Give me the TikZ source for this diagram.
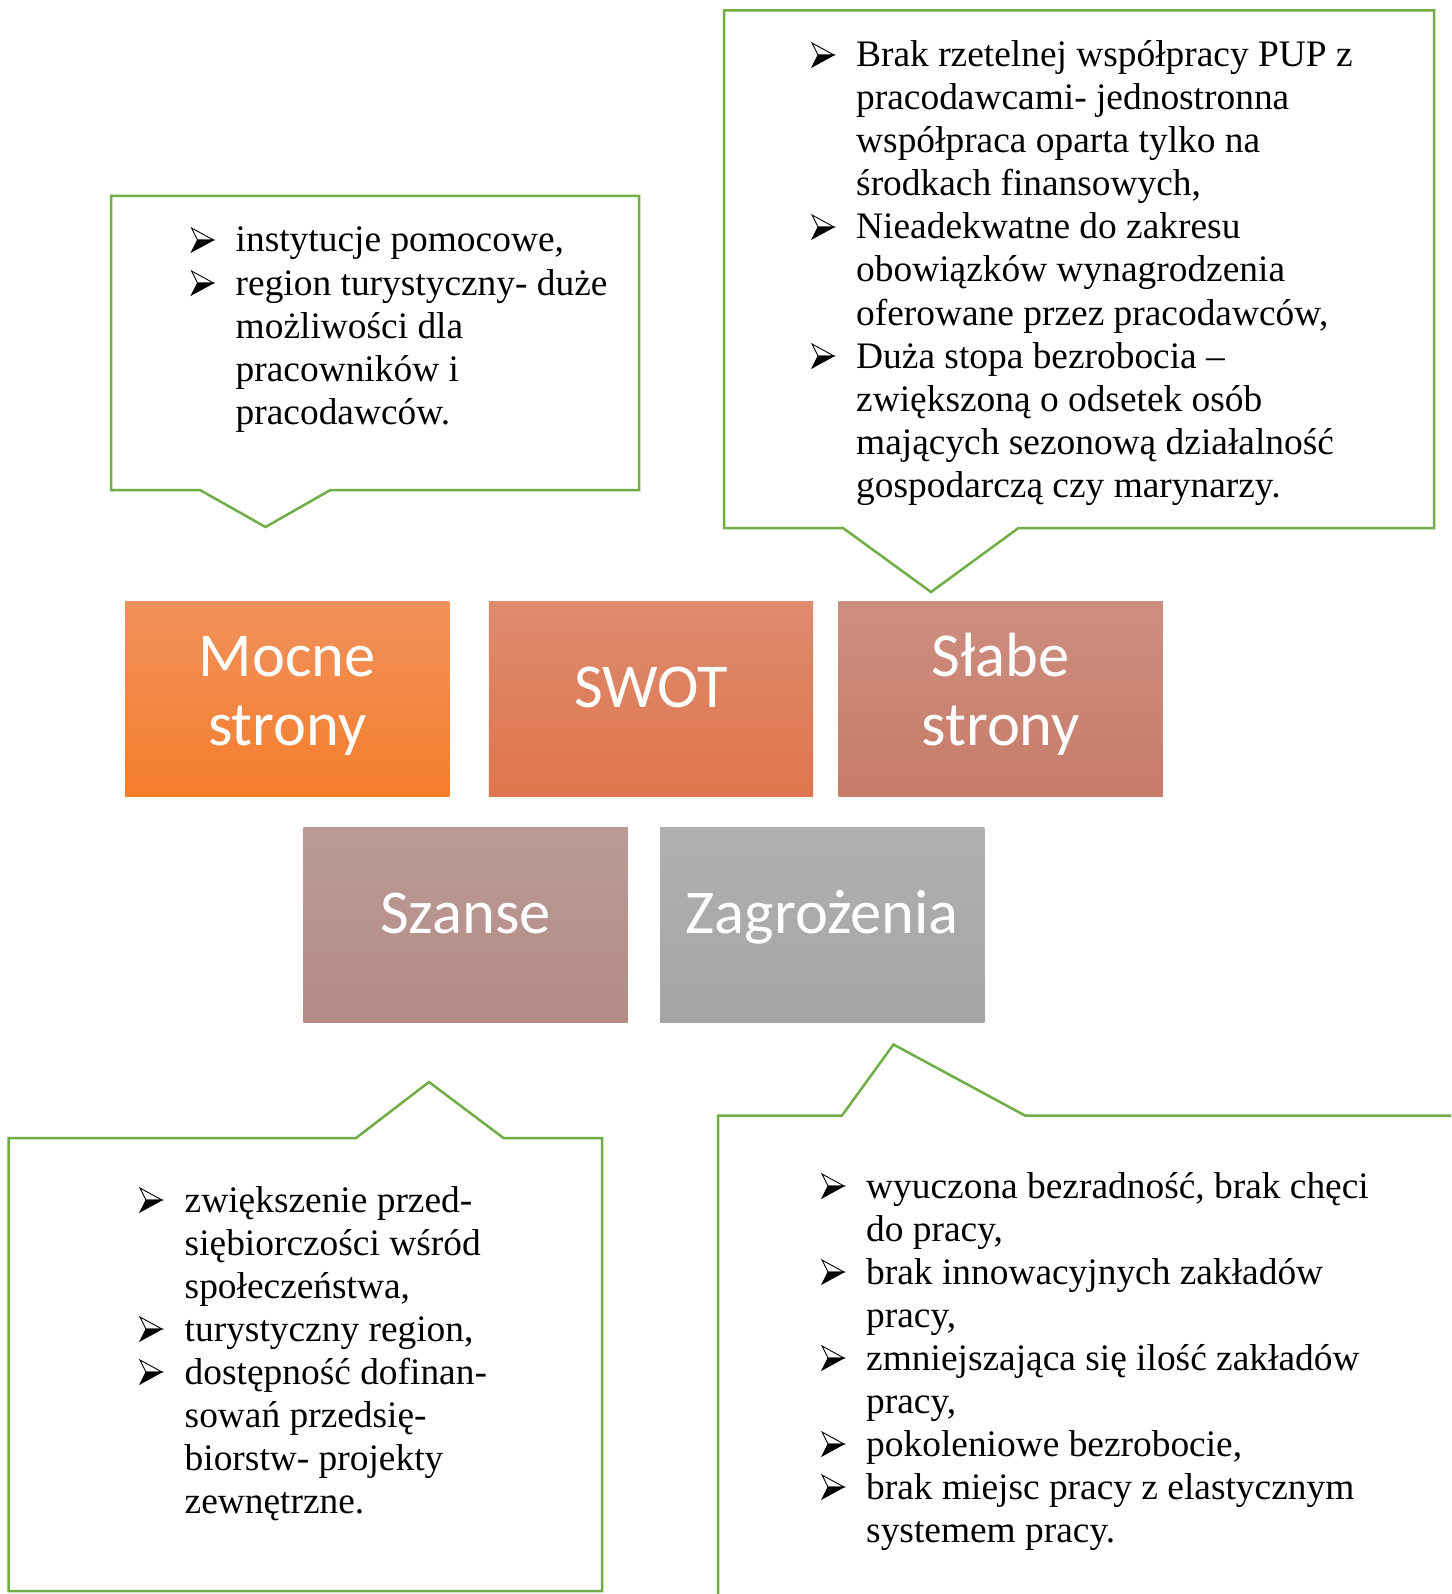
\documentclass[tikz,border=0pt]{standalone}
\usepackage{fontspec}
\setmainfont{Liberation Serif}
\newfontfamily\calib{Carlito}
\definecolor{cgreen}{RGB}{112,173,71}
\definecolor{mTop}{RGB}{240,145,92}\definecolor{mBot}{RGB}{245,126,44}
\definecolor{sTop}{RGB}{222,139,110}\definecolor{sBot}{RGB}{223,118,76}
\definecolor{wTop}{RGB}{205,142,128}\definecolor{wBot}{RGB}{200,124,104}
\definecolor{oTop}{RGB}{187,155,151}\definecolor{oBot}{RGB}{180,138,133}
\definecolor{tTop}{RGB}{176,176,176}\definecolor{tBot}{RGB}{165,165,165}
\begin{document}
\begin{tikzpicture}[x=1pt,y=-1pt,
  callout/.style={draw=cgreen, line width=2.5pt, line join=miter},
  txt/.style={font=\fontsize{37.4}{43}\selectfont, anchor=base west, inner sep=0pt},
  lbl/.style={font=\calib\fontsize{62.5}{69}\selectfont, text=white, anchor=base, inner sep=0pt},
  box/.style={minimum width=324.3pt, minimum height=195pt, inner sep=0pt, draw=none},
  bul/.pic={
    \filldraw[fill=white,draw=black,line width=0.9pt,line join=miter] (0,-24)--(22,-12)--(6,-12)--cycle;
    \filldraw[fill=black,draw=black,line width=0.9pt,line join=miter] (6,-12)--(22,-12)--(0,0)--cycle;
  }]
\useasboundingbox (0,0) rectangle (1451,1594);
\fill[white] (0,0) rectangle (1451,1594);
\clip (0,0) rectangle (1451,1594);

% callouts
\draw[callout] (111,196) -- (639,196) -- (639,490) -- (330.4,490) -- (265.5,527) -- (200,490) -- (111,490) -- cycle;
\draw[callout] (724,10.5) -- (1434,10.5) -- (1434,528) -- (1018.5,528) -- (931,592) -- (843,528) -- (724,528) -- cycle;
\draw[callout] (8.5,1138) -- (356,1138) -- (429,1082) -- (503.5,1138) -- (602,1138) -- (602,1591) -- (8.5,1591) -- cycle;
\draw[callout] (718,1610) -- (718,1115.5) -- (842,1115.5) -- (893.5,1044.5) -- (1025,1115.5) -- (1470,1115.5);

% boxes
\node[box, top color=mTop, bottom color=mBot] (mocne) at (287.2,698.75) {};
\node[box, top color=sTop, bottom color=sBot] (swot) at (650.9,698.75) {};
\node[box, top color=wTop, bottom color=wBot] (slabe) at (1000.7,698.75) {};
\node[box, top color=oTop, bottom color=oBot] (szanse) at (465.6,925.35) {};
\node[box, top color=tTop, bottom color=tBot] (zagr) at (822.3,925.35) {};

\node[lbl] (mocneA) at (287.2,676) {Mocne};
\node[lbl] (mocneB) at (287.2,745) {strony};
\node[lbl] (swotT) at (650.9,707) {SWOT};
\node[lbl] (slabeA) at (1000.7,676) {Słabe};
\node[lbl] (slabeB) at (1000.7,745) {strony};
\node[lbl] (szanseT) at (465.6,933) {Szanse};
\node[lbl] (zagrT) at (822.3,933) {Zagrożenia};

% callout 1 text
\foreach \t [count=\i from 0] in {{instytucje pomocowe,},{region turystyczny- duże},{możliwości dla},{pracowników i},{pracodawców.}}
  \node[txt] (a\i) at (235.5,{252+43*\i}) {\t};
\pic at (191.5,252) {bul};
\pic at (191.5,295) {bul};

% callout 2 text
\foreach \t [count=\i from 0] in {{Brak rzetelnej współpracy PUP z},{pracodawcami- jednostronna},{współpraca oparta tylko na},{środkach finansowych,},{Nieadekwatne do zakresu},{obowiązków wynagrodzenia},{oferowane przez pracodawców,},{Duża stopa bezrobocia –},{zwiększoną o odsetek osób},{mających sezonową działalność},{gospodarczą czy marynarzy.}}
  \node[txt] (b\i) at (856,{67+43*\i}) {\t};
\pic at (812,67) {bul};
\pic at (812,239) {bul};
\pic at (812,368) {bul};

% callout 3 text
\foreach \t [count=\i from 0] in {{zwiększenie przed-},{siębiorczości wśród},{społeczeństwa,},{turystyczny region,},{dostępność dofinan-},{sowań przedsię-},{biorstw- projekty},{zewnętrzne.}}
  \node[txt] (c\i) at (184.5,{1212+43*\i}) {\t};
\pic at (140,1212) {bul};
\pic at (140,1341) {bul};
\pic at (140,1384) {bul};

% callout 4 text
\foreach \t [count=\i from 0] in {{wyuczona bezradność, brak chęci},{do pracy,},{brak innowacyjnych zakładów},{pracy,},{zmniejszająca się ilość zakładów},{pracy,},{pokoleniowe bezrobocie,},{brak miejsc pracy z elastycznym},{systemem pracy.}}
  \node[txt] (d\i) at (866,{1198+43*\i}) {\t};
\pic at (822,1198) {bul};
\pic at (822,1284) {bul};
\pic at (822,1370) {bul};
\pic at (822,1456) {bul};
\pic at (822,1499) {bul};
\end{tikzpicture}
\end{document}
